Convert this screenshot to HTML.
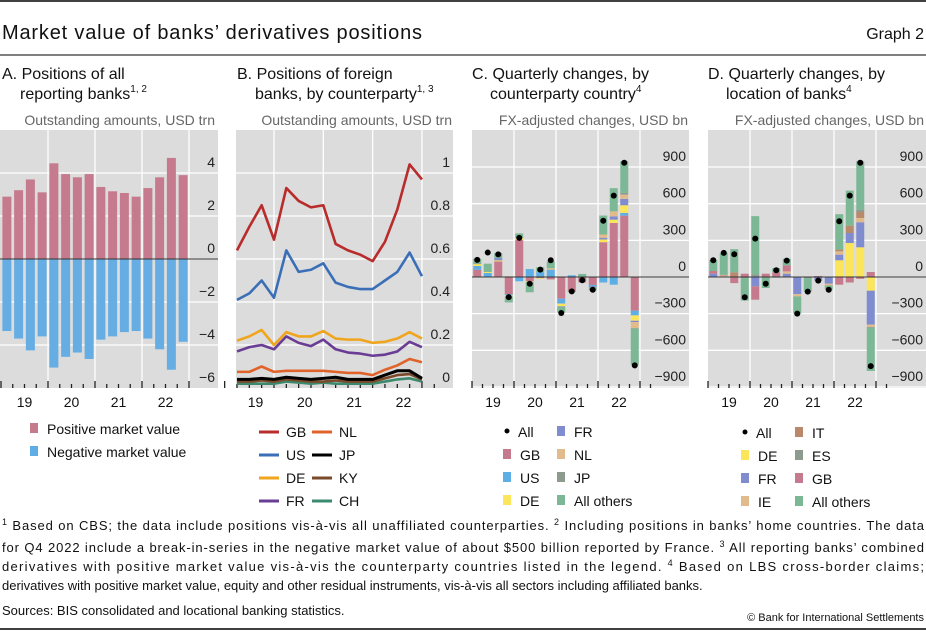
<!DOCTYPE html>
<html><head><meta charset="utf-8"><style>
body{margin:0;background:#fff}
svg{display:block;font-family:"Liberation Sans",sans-serif}
</style></head><body>
<svg id="c" width="926" height="631" viewBox="0 0 926 631">
<line x1="0" y1="1" x2="926" y2="1" stroke="#000" stroke-width="1.5"/>
<text x="2" y="39" font-size="20" fill="#111" textLength="420">Market value of banks’ derivatives positions</text>
<text x="924" y="39" font-size="16" fill="#111" text-anchor="end">Graph 2</text>
<line x1="0" y1="55" x2="926" y2="55" stroke="#000" stroke-width="1"/>
<g font-size="16" fill="#111">
<text x="2" y="79">A. Positions of all</text>
<text x="20" y="99">reporting banks<tspan font-size="10" dy="-7">1, 2</tspan></text>
<text x="237" y="79">B. Positions of foreign</text>
<text x="255" y="99">banks, by counterparty<tspan font-size="10" dy="-7">1, 3</tspan></text>
<text x="472" y="79">C. Quarterly changes, by</text>
<text x="490" y="99">counterparty country<tspan font-size="10" dy="-7">4</tspan></text>
<text x="708" y="79">D. Quarterly changes, by</text>
<text x="726" y="99">location of banks<tspan font-size="10" dy="-7">4</tspan></text>
</g>
<g font-size="14" fill="#666">
<text x="215" y="125" text-anchor="end">Outstanding amounts, USD trn</text>
<text x="452" y="125" text-anchor="end">Outstanding amounts, USD trn</text>
<text x="688" y="125" text-anchor="end">FX-adjusted changes, USD bn</text>
<text x="924" y="125" text-anchor="end">FX-adjusted changes, USD bn</text>
</g>
<g id="plots"></g>
<g font-size="14" fill="#111" id="legends"></g>
<g font-size="13" fill="#111">
<text x="2" y="530" textLength="922" lengthAdjust="spacing"><tspan font-size="9" dy="-5">1</tspan><tspan dy="5">  Based on CBS; the data include positions vis-à-vis all unaffiliated counterparties.    </tspan><tspan font-size="9" dy="-5">2</tspan><tspan dy="5">  Including positions in banks’ home countries. The data</tspan></text>
<text x="2" y="552" textLength="922" lengthAdjust="spacing">for Q4 2022 include a break-in-series in the negative market value of about $500 billion reported by France.    <tspan font-size="9" dy="-5">3</tspan><tspan dy="5">  All reporting banks’ combined</tspan></text>
<text x="2" y="571" textLength="922" lengthAdjust="spacing">derivatives with positive market value vis-à-vis the counterparty countries listed in the legend.  <tspan font-size="9" dy="-5">4</tspan><tspan dy="5"> Based on LBS cross-border claims;</tspan></text>
<text x="2" y="590">derivatives with positive market value, equity and other residual instruments, vis-à-vis all sectors including affiliated banks.</text>
<text x="2" y="615">Sources: BIS consolidated and locational banking statistics.</text>
<text x="924" y="621" font-size="11" text-anchor="end">© Bank for International Settlements</text>
</g>
<line x1="0" y1="629" x2="926" y2="629" stroke="#000" stroke-width="1.5"/>
</svg>
<script>
// ---- Data ----
const yearLabels = ["19","20","21","22"];
const aPositive = [2.9,3.2,3.7,3.1,4.45,3.95,3.8,3.95,3.35,3.15,3.07,2.9,3.3,3.8,4.7,3.9];
const aNegative = [-3.35,-3.7,-4.25,-3.6,-5.05,-4.55,-4.35,-4.65,-3.75,-3.6,-3.4,-3.35,-3.7,-4.2,-5.15,-3.85];
const aTicks = [4,2,0,-2,-4,-6];
const bGB = [0.64,0.75,0.85,0.69,0.93,0.87,0.84,0.85,0.67,0.64,0.62,0.59,0.68,0.83,1.04,0.97];
const bUS = [0.41,0.44,0.50,0.42,0.64,0.54,0.55,0.58,0.49,0.47,0.46,0.46,0.50,0.54,0.63,0.52];
const bDE = [0.22,0.24,0.27,0.20,0.26,0.24,0.24,0.265,0.23,0.225,0.225,0.21,0.215,0.23,0.26,0.23];
const bFR = [0.17,0.19,0.20,0.18,0.24,0.21,0.195,0.225,0.18,0.165,0.16,0.15,0.155,0.17,0.215,0.19];
const bNL = [0.075,0.075,0.1,0.075,0.08,0.08,0.08,0.08,0.075,0.07,0.07,0.06,0.085,0.105,0.135,0.12];
const bJP = [0.04,0.04,0.045,0.04,0.05,0.045,0.04,0.045,0.05,0.04,0.04,0.04,0.06,0.08,0.08,0.045];
const bKY = [0.03,0.03,0.035,0.03,0.04,0.035,0.03,0.03,0.035,0.03,0.03,0.03,0.045,0.06,0.065,0.04];
const bCH = [0.02,0.02,0.02,0.02,0.03,0.025,0.02,0.025,0.02,0.02,0.02,0.02,0.03,0.04,0.045,0.03];
const bTicks = [1,0.8,0.6,0.4,0.2,0];
const bnTicks = [900,600,300,0,-300,-600,-900];
const cGB = [60,0,128,-140,305,-35,-10,-20,-178,-118,-45,-65,285,442,502,-276];
const cUS = [30,33,0,-10,-35,65,40,60,-40,14,0,-10,-45,-63,22,-38];
const cDE = [15,8,8,-8,14,-5,-5,0,-22,0,0,0,22,27,63,-44];
const cFR = [0,0,19,0,0,0,0,0,-5,0,0,-8,14,27,52,-11];
const cNL = [0,0,0,0,0,0,0,12,0,0,0,0,27,41,35,-49];
const cJP = [5,0,0,5,0,0,0,0,0,0,0,0,0,0,14,-5];
const cOthers = [40,68,41,-50,38,-85,40,55,-45,-5,25,-25,155,190,260,-295];
const cAll = [140,200,185,-165,320,-55,60,137,-295,-118,-27,-104,460,666,935,-723];
const dDE = [0,0,0,0,0,0,0,0,0,0,0,0,137,278,243,-112];
const dFR = [27,5,0,0,-76,0,0,27,-140,0,-20,-55,46,82,205,-278];
const dIE = [0,8,0,0,5,0,0,19,-19,0,0,-14,27,0,35,-19];
const dIT = [0,0,38,0,0,0,0,0,0,0,0,0,14,60,49,0];
const dES = [0,0,0,-10,18,0,-5,0,0,-10,-10,0,0,0,19,-5];
const dGB = [22,5,-50,27,-110,27,38,49,0,0,8,0,-63,-45,-15,41];
const dOthers = [90,180,190,-183,475,-90,35,55,-140,-110,0,-35,290,287,396,-355];
const dAll = [137,197,186,-166,314,-55,55,134,-300,-120,-30,-104,456,666,935,-729];

const NS="http://www.w3.org/2000/svg";
const plots=document.getElementById('plots');
function el(tag,attrs,parent){const e=document.createElementNS(NS,tag);for(const k in attrs)e.setAttribute(k,attrs[k]);(parent||plots).appendChild(e);return e;}

function frame(x0,x1,yTop,yBot,yScale,ticks,fmt,yearX,name,qx,nq){
  const g=el('g',{});
  
  
  const bg=el('rect',{x:x0,y:yTop,width:x1-x0,height:yBot-yTop,fill:'#dcdcdc'},g);
  
  
  ticks.forEach(t=>{const y=yScale(t);
    if(y>yTop+1&&y<yBot-1){const l=el('line',{x1:x0,x2:x1,y1:y,y2:y,stroke:'#fff','stroke-width':1.3},g);
    
    }
    const tx=el('text',{x:x1-3,y:Math.min(y-6,yBot-5),'text-anchor':'end','font-size':14,fill:'#222'},g);
    tx.textContent=fmt(t);
    
    });
  for(let k=1;k<=4;k++){const x=qx(4*k);
    const l=el('line',{x1:x,x2:x,y1:yTop,y2:yBot,stroke:'#fff','stroke-width':1.3},g);
    
    }
  for(let i=0;i<=nq;i++){const x=qx(i);const big=i%4===0;
    const l=el('line',{x1:x,x2:x,y1:yBot-(big?7:4),y2:yBot,stroke:'#222','stroke-width':1.3},g);
    
    }
  yearLabels.forEach((lab,k)=>{const t=el('text',{x:yearX(k),y:yBot+19,'text-anchor':'middle','font-size':14,fill:'#111'},g);
    t.textContent=lab;
    
    });
  return g;
}
const fmtMinus=v=>(v<0?'−'+Math.abs(v):String(v));

// Panel A
(function(){
  const x0=1,qw=11.75,ys=v=>259-21.5*v,qx=i=>x0+qw*i;
  const g=frame(0,218,130,388,ys,aTicks,fmtMinus,k=>qx(4*k+2),'panel-a',qx,16);
  aPositive.forEach((v,i)=>{const r=el('rect',{x:qx(i+0.5)-4.5,y:ys(v),width:9,height:ys(0)-ys(v),fill:'#c57b8d'},g);
    
    });
  aNegative.forEach((v,i)=>{const r=el('rect',{x:qx(i+0.5)-4.5,y:ys(0),width:9,height:ys(v)-ys(0),fill:'#66ade3'},g);
    
    });
  const z=el('line',{x1:0,x2:218,y1:ys(0),y2:ys(0),stroke:'#333','stroke-width':1},g);
  
  
})();

// Panel B
(function(){
  const x0=237,qw=12.33,ys=v=>388-215*v,qx=i=>x0+qw*(i-1)+12.33*0+0; // quarter-end index
  const px=i=>x0+qw*i;
  const tx=i=>x0+qw*(i-1);
  const g=frame(236,453,130,388,ys,bTicks,v=>String(v),k=>px(4*k+1.5),'panel-b',i=>px(i-1),17);
  const series=[[bCH,'#3b8a6e','CH'],[bKY,'#7a4a2a','KY'],[bJP,'#000','JP'],[bNL,'#e0632a','NL'],[bFR,'#6a3d94','FR'],[bDE,'#f0a51e','DE'],[bUS,'#3a6fb7','US'],[bGB,'#b82c2c','GB']];
  series.forEach(([d,c,n])=>{const p=el('polyline',{points:d.map((v,i)=>px(i)+','+ys(v)).join(' '),fill:'none',stroke:c,'stroke-width':n==='JP'?3:2.6,'stroke-linejoin':'round'},g);
    
    });
})();

// Stacked panels
function stacked(x0,x1,name,series,all){
  const qw=10.5,ys=v=>277-0.1222*v,qx=i=>x0+qw*i;
  const g=frame(x0,x1,130,388,ys,bnTicks,fmtMinus,k=>qx(4*k+2),name,qx,17);
  for(let i=0;i<16;i++){let pos=0,neg=0;
    series.forEach(([d,c,n])=>{const v=d[i];if(!v)return;let a,b;
      if(v>0){a=pos;b=pos+v;pos=b;}else{a=neg;b=neg+v;neg=b;}
      const r=el('rect',{x:qx(i+0.5)-4,y:Math.min(ys(a),ys(b)),width:8,height:Math.abs(ys(a)-ys(b)),fill:c},g);
      
      });
  }
  const z=el('line',{x1:x0,x2:x1,y1:ys(0),y2:ys(0),stroke:'#333','stroke-width':1},g);
  
  
  all.forEach((v,i)=>{const c=el('circle',{cx:qx(i+0.5),cy:ys(v),r:3,fill:'#000'},g);
    
    });
}
const PINK='#c57b8d',LBLUE='#5eaee6',YEL='#fbe55a',VIO='#7f8ccf',TAN='#e2bb8c',GRAY='#8d9a8e',GRN='#7db896',BRN='#b8896a';
stacked(472,689,'panel-c',[[cGB,PINK,'gb'],[cUS,LBLUE,'us'],[cDE,YEL,'de'],[cFR,VIO,'fr'],[cNL,TAN,'nl'],[cJP,GRAY,'jp'],[cOthers,GRN,'others']],cAll);
stacked(708,926,'panel-d',[[dDE,YEL,'de'],[dFR,VIO,'fr'],[dIE,TAN,'ie'],[dIT,BRN,'it'],[dES,GRAY,'es'],[dGB,PINK,'gb'],[dOthers,GRN,'others']],dAll);

// Legends
const lg=document.getElementById('legends');
function item(type,x,y,color,label){const g=el('g',{},lg);
  
  
  if(type==='sq')el('rect',{x:x,y:y-11,width:8,height:10,fill:color},g);
  else if(type==='ln')el('line',{x1:x,x2:x+20,y1:y-5,y2:y-5,stroke:color,'stroke-width':3},g);
  else el('circle',{cx:x+3,cy:y-6,r:2.5,fill:'#000'},g);
  const t=el('text',{x:x+(type==='ln'?27:type==='dot'?14:17),y:y},g);t.textContent=label;}
item('sq',30,434,PINK,'Positive market value');item('sq',30,457,LBLUE,'Negative market value');
[['GB','#b82c2c'],['US','#3a6fb7'],['DE','#f0a51e'],['FR','#6a3d94']].forEach(([n,c],k)=>item('ln',259,437+23*k,c,n));
[['NL','#e0632a'],['JP','#000'],['KY','#7a4a2a'],['CH','#3b8a6e']].forEach(([n,c],k)=>item('ln',312,437+23*k,c,n));
item('dot',504,437,'#000','All');
[['GB',PINK],['US',LBLUE],['DE',YEL]].forEach(([n,c],k)=>item('sq',503,460+23*k,c,n));
[['FR',VIO],['NL',TAN],['JP',GRAY],['All others',GRN]].forEach(([n,c],k)=>item('sq',557,437+23*k,c,n));
item('dot',742,438,'#000','All');
[['DE',YEL],['FR',VIO],['IE',TAN]].forEach(([n,c],k)=>item('sq',741,461+23*k,c,n));
[['IT',BRN],['ES',GRAY],['GB',PINK],['All others',GRN]].forEach(([n,c],k)=>item('sq',795,438+23*k,c,n));
</script>
</body></html>
